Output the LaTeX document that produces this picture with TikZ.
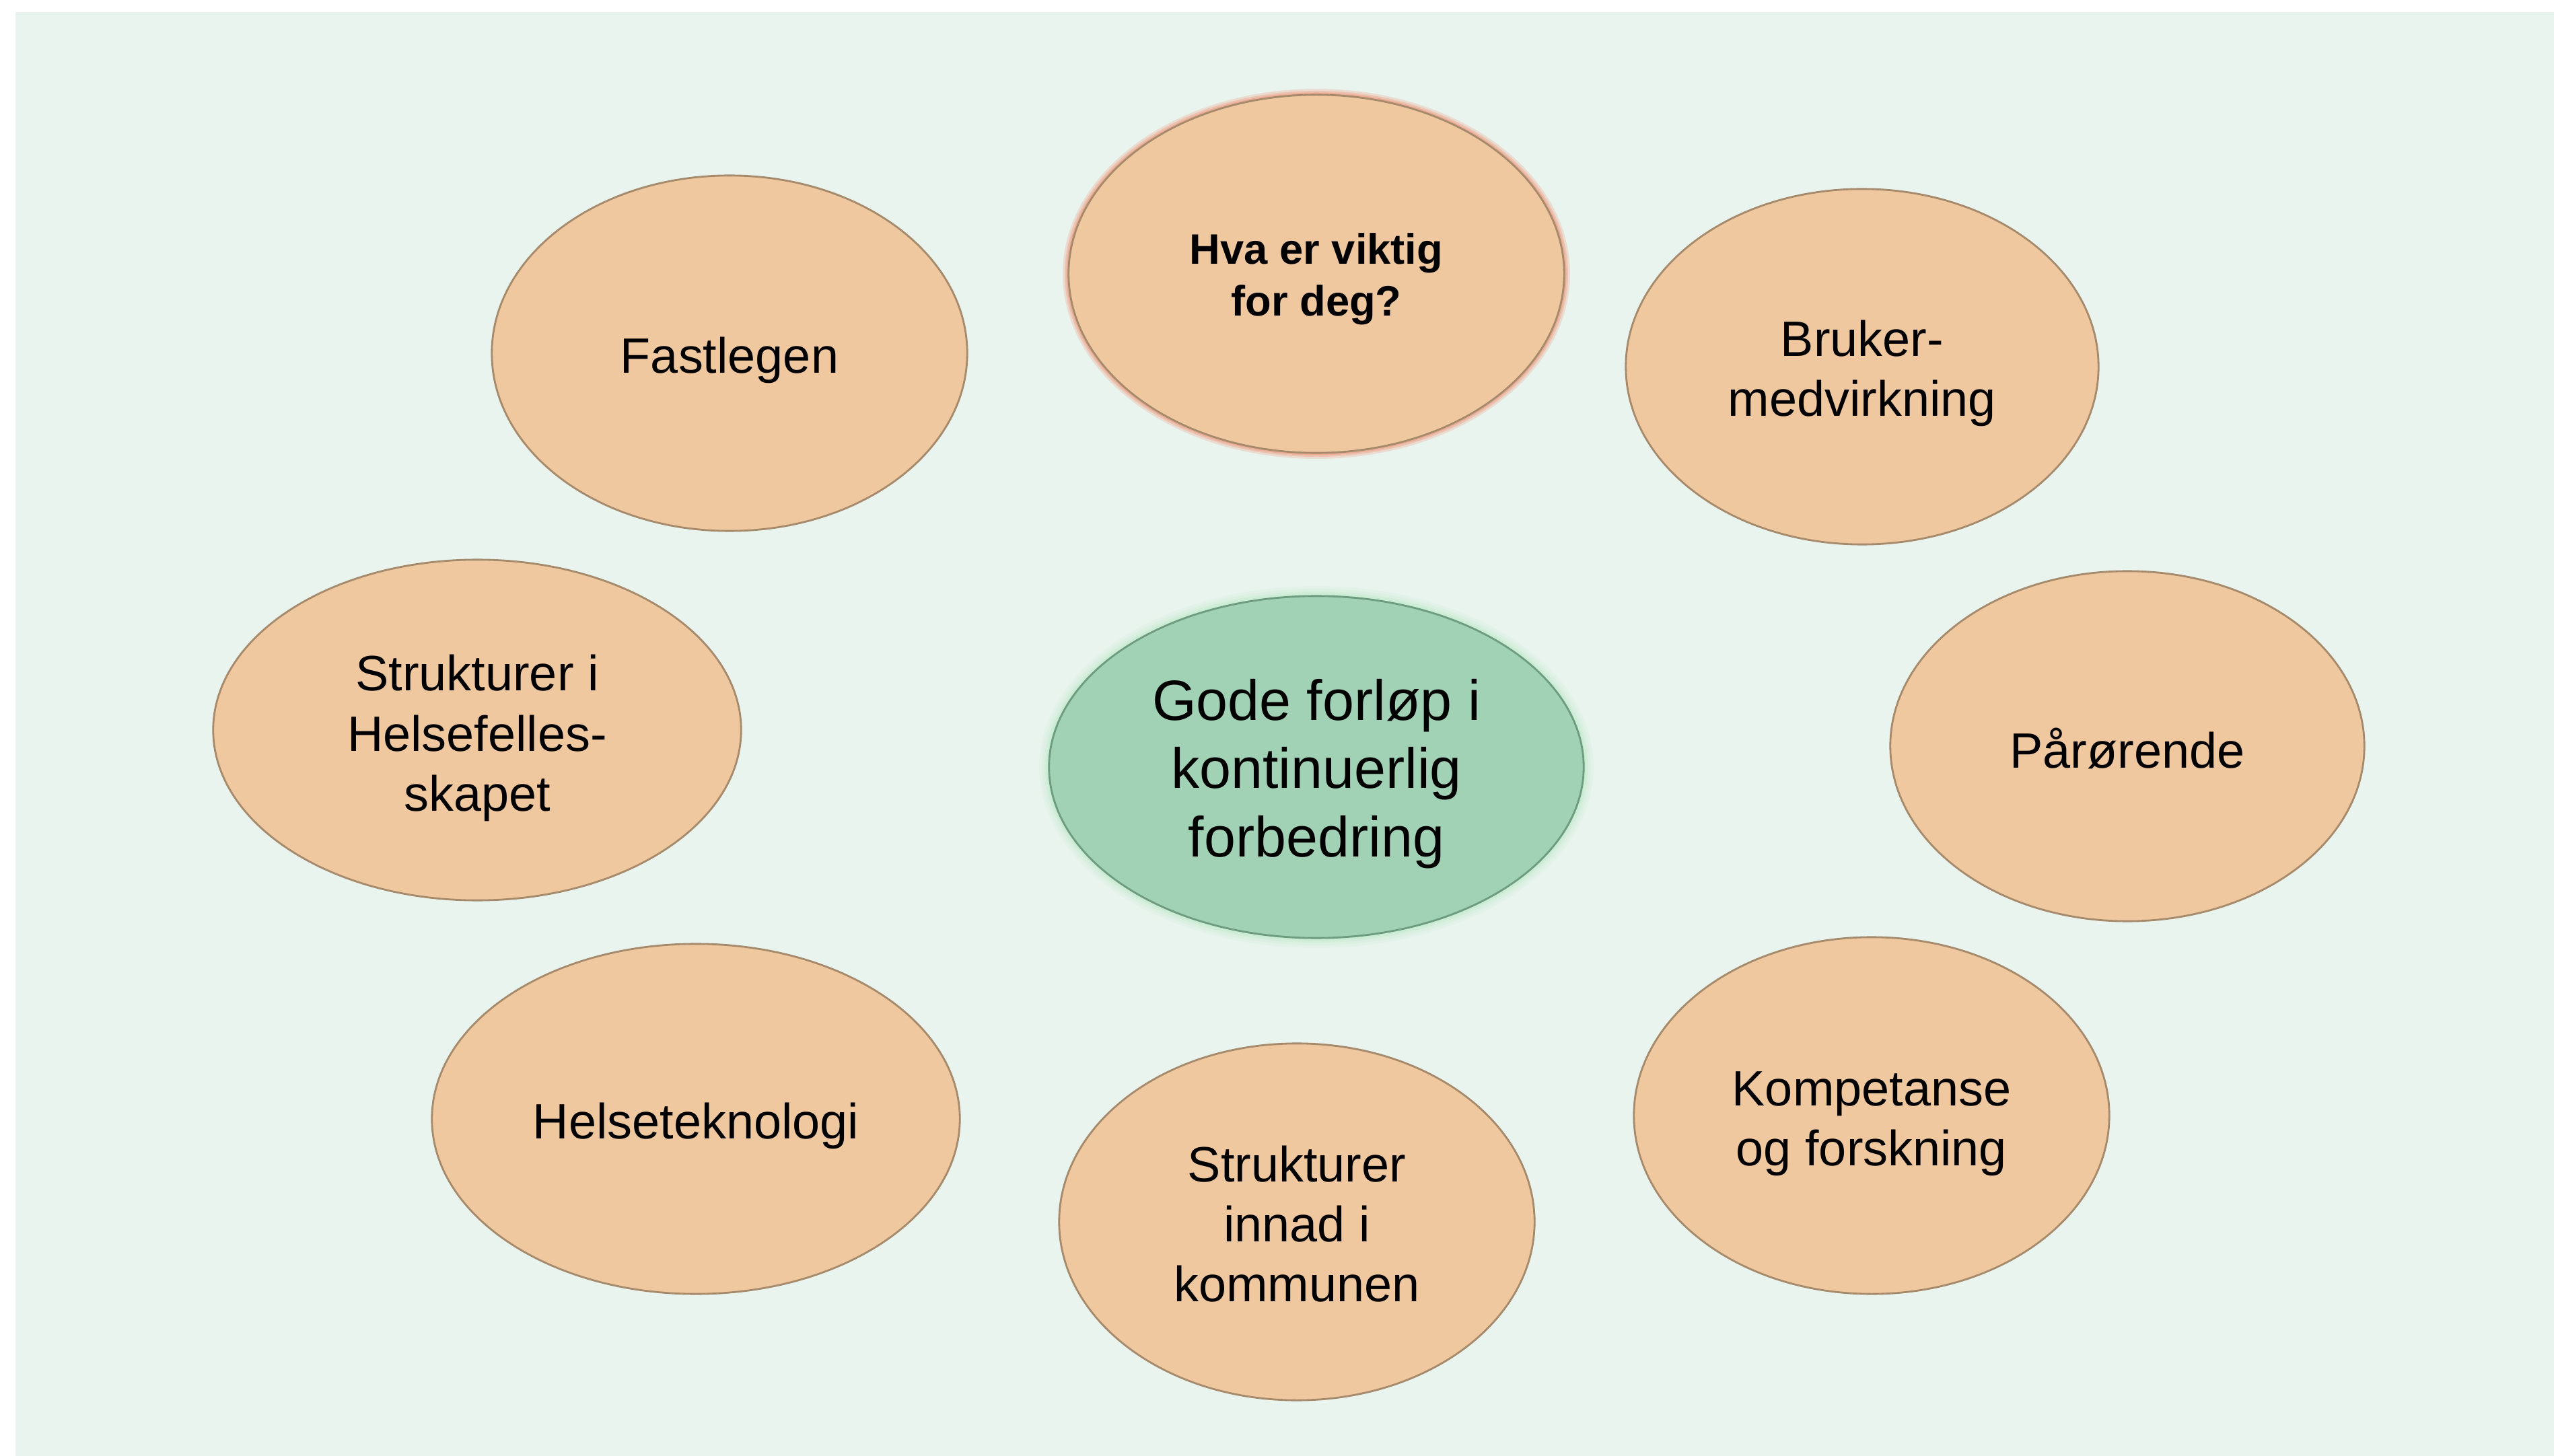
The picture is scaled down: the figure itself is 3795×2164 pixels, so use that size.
\documentclass[tikz,border=0pt]{standalone}
\usepackage{fontspec}
\setmainfont{Liberation Sans}
\usetikzlibrary{shapes.geometric}
\definecolor{bgmint}{HTML}{EAF4EF}
\definecolor{peach}{HTML}{F0C8A0}
\definecolor{peachline}{HTML}{A68A6C}
\definecolor{mintfill}{HTML}{A1D2B5}
\definecolor{mintline}{HTML}{6E9C80}
\definecolor{salmonglow}{HTML}{EDA58C}
\definecolor{greenglow}{HTML}{BFEBCA}
\tikzset{
  oval/.style={ellipse, inner sep=0pt},
  peachoval/.style={oval, fill=peach, draw=peachline, line width=0.8pt},
  greenoval/.style={oval, fill=mintfill, draw=mintline, line width=0.8pt},
  txt/.style={align=center, inner sep=0pt, text=black, font=\fontsize{21}{25.4}\selectfont},
  bigtxt/.style={txt, font=\fontsize{24}{28.8}\selectfont},
  boldtxt/.style={txt, font=\bfseries\fontsize{18}{22}\selectfont},
}
\begin{document}
\begin{tikzpicture}[x=0.01cm, y=-0.01cm]
\useasboundingbox (0,0) rectangle (3795,2164);
\fill[bgmint] (23,18) rectangle (3795,2164);

% glows
\foreach \w/\o in {30/0.15, 22/0.2, 14/0.3, 8/0.45}{
  \draw[greenglow, line width=\w*0.01cm, opacity=\o] (1956,1140) ellipse [x radius=397, y radius=254];
}
\foreach \w/\o in {18/0.3, 12/0.45, 7/0.7}{
  \draw[salmonglow, line width=\w*0.01cm, opacity=\o] (1956,407) ellipse [x radius=368, y radius=266];
}

\node[peachoval, minimum width=7.36cm, minimum height=5.32cm] (hva) at (1956,407) {};
\node[peachoval, minimum width=7.06cm, minimum height=5.28cm] (fast) at (1084,525) {};
\node[peachoval, minimum width=7.02cm, minimum height=5.28cm] (bruker) at (2767,545) {};
\node[peachoval, minimum width=7.84cm, minimum height=5.06cm] (helsefelles) at (709,1085) {};
\node[greenoval, minimum width=7.94cm, minimum height=5.08cm] (gode) at (1956,1140) {};
\node[peachoval, minimum width=7.04cm, minimum height=5.20cm] (paaror) at (3161,1109) {};
\node[peachoval, minimum width=7.84cm, minimum height=5.20cm] (helsetek) at (1034,1663) {};
\node[peachoval, minimum width=7.06cm, minimum height=5.30cm] (kommune) at (1927,1816) {};
\node[peachoval, minimum width=7.06cm, minimum height=5.30cm] (kompetanse) at (2781,1658) {};

\node[boldtxt] (hva-t) at ([yshift=-0.08cm]hva.center) {Hva er viktig\\for deg?};
\node[txt] (fast-t) at ([yshift=-0.1cm]fast.center) {Fastlegen};
\node[txt] (bruker-t) at ([yshift=-0.1cm]bruker.center) {Bruker-\\medvirkning};
\node[txt] (helsefelles-t) at ([yshift=-0.12cm]helsefelles.center) {Strukturer i\\Helsefelles-\\skapet};
\node[bigtxt] (gode-t) at ([yshift=-0.1cm]gode.center) {Gode forløp i\\kontinuerlig\\forbedring};
\node[txt] (paaror-t) at ([yshift=-0.03cm]paaror.center) {Pårørende};
\node[txt] (helsetek-t) at ([yshift=-0.1cm]helsetek.center) {Helseteknologi};
\node[txt] (kommune-t) at ([yshift=-0.03cm]kommune.center) {Strukturer\\innad i\\kommunen};
\node[txt] (kompetanse-t) at ([yshift=-0.12cm]kompetanse.center) {Kompetanse\\og forskning};
\end{tikzpicture}
\end{document}
